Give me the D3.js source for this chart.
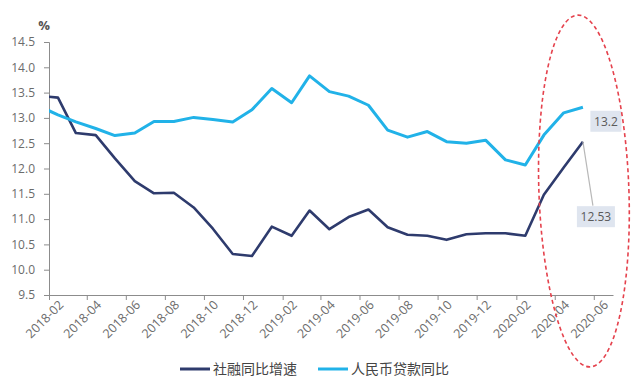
<!DOCTYPE html>
<html>
<head>
<meta charset="utf-8">
<script src="https://cdn.jsdelivr.net/npm/d3@7"></script>
<style>
  body { margin: 0; background: #fff; }
  svg text { font-family: "Open Sans", "Noto Sans", sans-serif; }
</style>
</head>
<body>
<div id="chart"></div>
<script>
// monthly observations (Jan 2018 sits just left of the axis and gets clipped)
var months = ["2018-01","2018-02","2018-03","2018-04","2018-05","2018-06","2018-07","2018-08","2018-09","2018-10","2018-11","2018-12",
    "2019-01","2019-02","2019-03","2019-04","2019-05","2019-06","2019-07","2019-08","2019-09","2019-10","2019-11","2019-12",
    "2020-01","2020-02","2020-03","2020-04","2020-05"];
var tsfGrowth = [13.44, 13.40, 12.70, 12.66, 12.20, 11.75, 11.51, 11.52, 11.23, 10.81, 10.31, 10.27,
    10.85, 10.67, 11.17, 10.80, 11.04, 11.19, 10.84, 10.69, 10.67, 10.59, 10.70, 10.72,
    10.72, 10.67, 11.48, 12.02, 12.53];
var loanGrowth = [13.24, 13.06, 12.92, 12.79, 12.65, 12.70, 12.93, 12.93, 13.01, 12.97, 12.92, 13.16,
    13.58, 13.30, 13.83, 13.52, 13.43, 13.25, 12.76, 12.62, 12.73, 12.53, 12.50, 12.56,
    12.17, 12.07, 12.66, 13.10, 13.21];
var seriesNames = ["社融同比增速", "人民币贷款同比"];
var yTicks = [9.5, 10.0, 10.5, 11.0, 11.5, 12.0, 12.5, 13.0, 13.5, 14.0, 14.5];
var xTickLabels = ["2018-02","2018-04","2018-06","2018-08","2018-10","2018-12","2019-02","2019-04",
    "2019-06","2019-08","2019-10","2019-12","2020-02","2020-04","2020-06"];
var endLabels = ["12.53", "13.2"];

var width = 640, height = 385;
var colors = ["#2e3b6d", "#21b2e8"];
var axisColor = "#8c8c8c", textColor = "#6b6b6b";

var parse = d3.timeParse("%Y-%m");
var midMonth = function(m) { return d3.timeDay.offset(parse(m), 14); };

var svg = d3.select('#chart').append('svg')
    .attr('width', width)
    .attr('height', height);

var x = d3.scaleTime()
    .domain([parse("2018-02"), parse("2020-07")])
    .range([49, 613]);
var y = d3.scaleLinear()
    .domain([9.5, 14.5])
    .range([295, 42]);

svg.append("clipPath").attr("id", "plot-clip")
  .append("rect")
    .attr("x", x.range()[0]).attr("y", 0)
    .attr("width", x.range()[1] - x.range()[0]).attr("height", height);

// y axis
var yAxis = svg.append("g")
    .attr("transform", "translate(" + x.range()[0] + ",0)")
    .call(d3.axisLeft(y).tickValues(yTicks).tickFormat(d3.format(".1f")).tickSize(5).tickPadding(9));
yAxis.select(".domain").attr("stroke", axisColor);
yAxis.selectAll(".tick line").attr("stroke", axisColor);
yAxis.selectAll(".tick text").attr("fill", textColor).style("font-size", "12px");

svg.append("text")
    .attr("x", 44).attr("y", 30)
    .attr("text-anchor", "middle")
    .attr("fill", "#555")
    .style("font-size", "13px")
    .style("font-weight", "bold")
    .text("%");

// x axis
var xAxis = svg.append("g")
    .attr("transform", "translate(0," + y.range()[0] + ")")
    .call(d3.axisBottom(x).tickValues(xTickLabels.map(parse)).tickFormat(d3.timeFormat("%Y-%m")).tickSize(5).tickSizeOuter(0));
xAxis.select(".domain").attr("stroke", axisColor);
xAxis.selectAll(".tick line").attr("stroke", axisColor);
xAxis.selectAll(".tick text")
    .attr("fill", textColor)
    .style("font-size", "12.5px")
    .attr("text-anchor", "end")
    .attr("dy", "0.35em")
    .attr("transform", "translate(6,2) rotate(-45)");

// lines
var line = d3.line()
    .x(function(d) { return x(midMonth(d.m)); })
    .y(function(d) { return y(d.v); });

var series = [tsfGrowth, loanGrowth].map(function(vals) {
    return months.map(function(m, i) { return {m: m, v: vals[i]}; });
});

svg.append("g")
    .attr("clip-path", "url(#plot-clip)")
    .selectAll("path")
    .data(series)
    .enter().append("path")
    .attr("d", line)
    .attr("fill", "none")
    .attr("stroke", function(d, i) { return colors[i]; })
    .attr("stroke-width", function(d, i) { return i ? 3 : 2.6; })
    .attr("stroke-linejoin", "round");

// end-of-series labels
var last = months.length - 1;
var lx = x(midMonth(months[last]));
var tsfY = y(tsfGrowth[last]), loanY = y(loanGrowth[last]);

svg.append("line")
    .attr("x1", lx).attr("y1", tsfY)
    .attr("x2", lx + 10).attr("y2", tsfY + 64)
    .attr("stroke", "#b8b8b8").attr("stroke-width", 1.2);

var boxes = [
    {text: endLabels[0], cx: lx + 13, cy: tsfY + 75, w: 38},
    {text: endLabels[1], cx: lx + 23, cy: loanY + 14, w: 31}
];
var lab = svg.selectAll(".end-label").data(boxes).enter().append("g");
lab.append("rect")
    .attr("x", function(d) { return d.cx - d.w / 2; })
    .attr("y", function(d) { return d.cy - 10.5; })
    .attr("width", function(d) { return d.w; })
    .attr("height", 21)
    .attr("fill", "#dfe5ef");
lab.append("text")
    .attr("x", function(d) { return d.cx; })
    .attr("y", function(d) { return d.cy; })
    .attr("dy", "0.36em")
    .attr("text-anchor", "middle")
    .attr("fill", "#5a5a5a")
    .style("font-size", "12px")
    .text(function(d) { return d.text; });

// red dashed highlight ellipse
var ecx = lx + 1;
svg.append("ellipse")
    .attr("cx", ecx)
    .attr("cy", 191)
    .attr("rx", 45)
    .attr("ry", 176)
    .attr("transform", "rotate(-2," + ecx + ",191)")
    .attr("fill", "none")
    .attr("stroke", "#e5424d")
    .attr("stroke-width", 1.6)
    .attr("stroke-dasharray", "4,3");

// legend
var legend = svg.append("g").attr("transform", "translate(0,369)");
var legX = [180, 318];
seriesNames.forEach(function(name, i) {
    legend.append("line")
        .attr("x1", legX[i]).attr("x2", legX[i] + 30)
        .attr("stroke", colors[i]).attr("stroke-width", 3);
    legend.append("text")
        .attr("x", legX[i] + 33)
        .attr("dy", "0.35em")
        .attr("fill", "#444")
        .style("font-family", "'Noto Sans CJK SC', sans-serif")
        .style("font-size", "14px")
        .text(name);
});
</script>
</body>
</html>
